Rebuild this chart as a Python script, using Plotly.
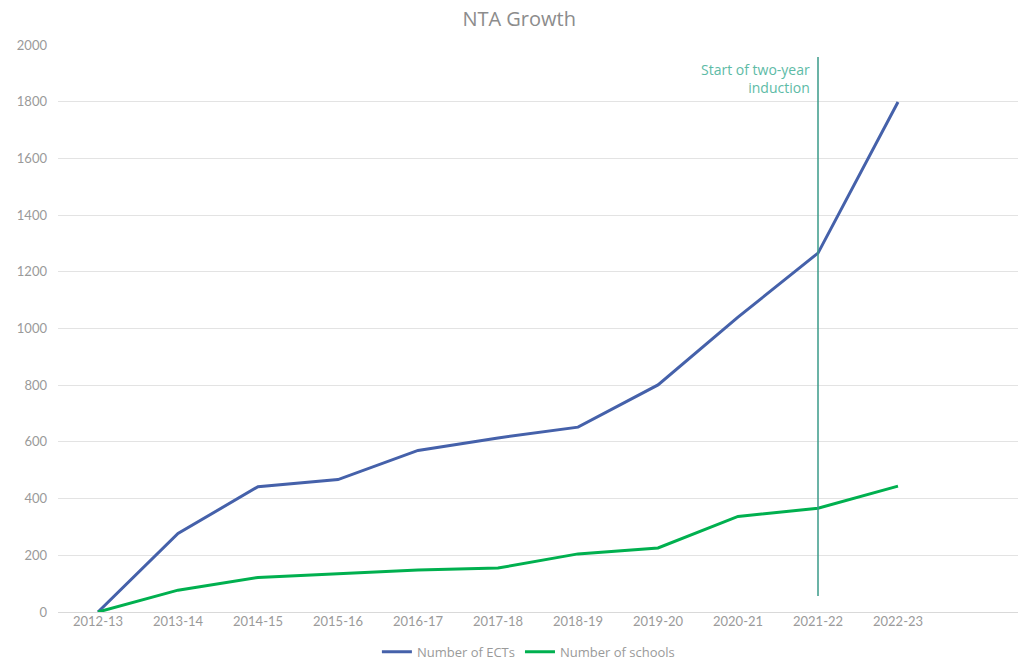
import plotly.graph_objects as go

years = ["2012-13", "2013-14", "2014-15", "2015-16", "2016-17", "2017-18",
         "2018-19", "2019-20", "2020-21", "2021-22", "2022-23"]
ects = [0, 277, 442, 467, 570, 614, 652, 801, 1040, 1266, 1799]
schools = [0, 77, 122, 134, 148, 155, 205, 226, 337, 366, 444]
all_cats = years + [" "]
marker_year = "2021-22"

tick_fam = "Lato, 'Open Sans', sans-serif"
text_fam = "'Open Sans', Lato, sans-serif"
grey = "#9a9a9a"

fig = go.Figure()
fig.add_trace(go.Scatter(x=years, y=ects, mode="lines", name="Number of ECTs",
                         line=dict(color="#4561AA", width=3)))
fig.add_trace(go.Scatter(x=years, y=schools, mode="lines", name="Number of schools",
                         line=dict(color="#00B04F", width=3)))

fig.add_shape(type="line", xref="x", yref="y", x0=marker_year, x1=marker_year,
              y0=56, y1=1958, line=dict(color="#3A9A88", width=1.5))
fig.add_annotation(x=marker_year, y=1958, xref="x", yref="y", xanchor="right",
                   yanchor="top", xshift=-6, yshift=-1,
                   text="Start of two-year<br>induction", showarrow=False, align="right",
                   font=dict(family=text_fam, size=14, color="#5DBBA6"))

fig.update_layout(
    width=1024, height=661,
    paper_bgcolor="white", plot_bgcolor="white",
    margin=dict(l=58, r=6, t=45, b=49, autoexpand=False),
    title=dict(text="NTA Growth", x=0.507, xanchor="center", y=0.972, yanchor="middle",
               font=dict(family=text_fam, size=20, color="#8c8c8c")),
    font=dict(family=tick_fam, size=13, color=grey),
    showlegend=True,
    legend=dict(orientation="h", x=0.49, xanchor="center", yref="container",
                y=0.014, yanchor="middle",
                font=dict(family=text_fam, size=13, color=grey), itemwidth=30,
                traceorder="normal"),
)
fig.update_xaxes(type="category", categoryorder="array", categoryarray=all_cats,
                 range=[-0.5, 11.5], showgrid=False, showline=False, zeroline=False,
                 ticks="", tickfont=dict(color=grey, size=13))
fig.update_yaxes(range=[0, 2000], dtick=200, showgrid=True, gridcolor="#e3e3e3",
                 gridwidth=1, zeroline=True, zerolinecolor="#d9d9d9", zerolinewidth=1,
                 showline=False, ticks="", ticklabelstandoff=10,
                 tickfont=dict(color=grey, size=13))

fig.write_html("out.html")
